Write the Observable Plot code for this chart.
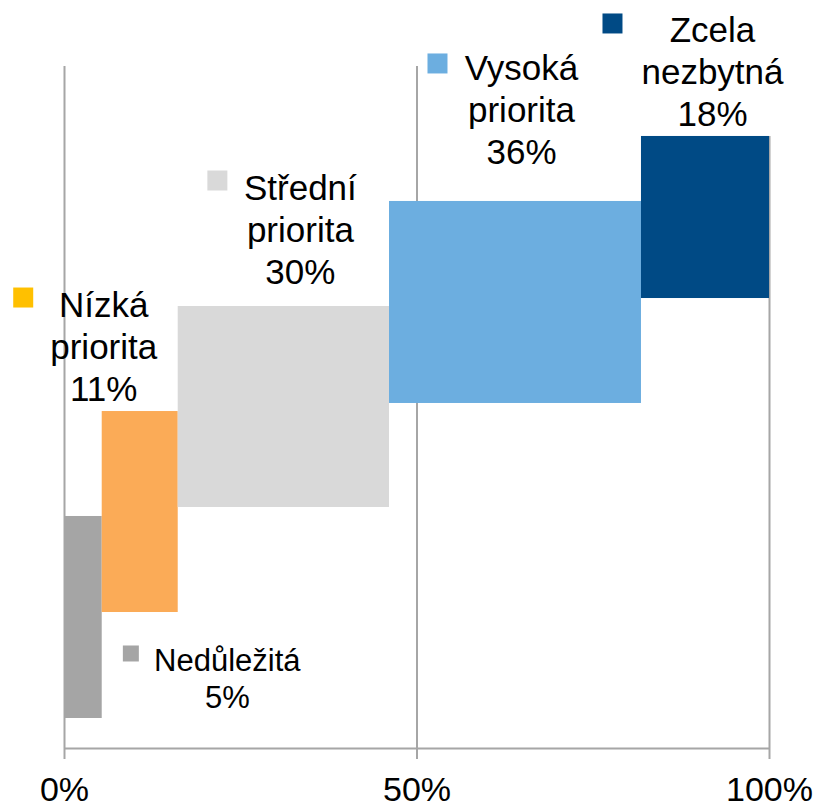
<!DOCTYPE html>
<html><head><meta charset="utf-8">
<script src="https://cdn.jsdelivr.net/npm/d3@7"></script>
<script src="https://cdn.jsdelivr.net/npm/@observablehq/plot@0.6"></script>
<style>body{margin:0;background:#fff} #chart svg{display:block}</style>
</head><body><div id="chart"></div>
<script>
// ---- data ----
const categories = ["Nedůležitá", "Nízká priorita", "Střední priorita", "Vysoká priorita", "Zcela nezbytná"];
const labelLines = [["Nedůležitá"], ["Nízká", "priorita"], ["Střední", "priorita"], ["Vysoká", "priorita"], ["Zcela", "nezbytná"]];
const shares = [5.35, 10.78, 29.97, 35.74, 18.16];      // % width of each block
const yLow  = [4.40, 19.94, 35.34, 50.59, 65.98];       // block bottoms (vertical units 0–100)
const yHigh = [34.02, 49.41, 64.81, 80.21, 89.74];      // block tops
const xTicks = [0, 50, 100];
const xTickLabels = ["0%", "50%", "100%"];

// ---- styling ----
const barColors    = ["#a5a5a5", "#fbab57", "#d9d9d9", "#6caee0", "#004a85"];
const markerColors = ["#a5a5a5", "#ffc000", "#d9d9d9", "#6caee0", "#004a85"];
const layout = [
  {fs: 31, dx: 144,   dy: 128,  mdx: 47.5,  mdy: 137,  side: 16},
  {fs: 35, dx: -36.5, dy: -124, mdx: -117,  mdy: -114, side: 20},
  {fs: 35, dx: 16.5,  dy: -136, mdx: -66.5, mdy: -126, side: 20},
  {fs: 35, dx: 6,     dy: -151, mdx: -78,   mdy: -138, side: 20},
  {fs: 35, dx: 7,     dy: -124, mdx: -93,   mdy: -113, side: 20}
];
const grid = "#a6a6a6";

const ends = d3.cumsum(shares);
const rows = categories.map((c, i) => ({
  cat: c,
  x1: ends[i] - shares[i],
  x2: ends[i],
  cx: ends[i] - shares[i] / 2,
  y1: yLow[i],
  y2: yHigh[i],
  label: labelLines[i].join("\n") + "\n" + Math.round(shares[i]) + "%",
  i
}));

const marks = [
  Plot.ruleX(xTicks.slice(0, 2), {y1: 0, y2: 100, stroke: grid, strokeWidth: 2}),
  Plot.ruleX([rows[4]], {x: "x2", y1: 0, y2: "y2", stroke: grid, strokeWidth: 2}),
  Plot.ruleY([0], {stroke: grid, strokeWidth: 2}),
  Plot.axisX({ticks: xTicks, tickFormat: (d) => xTickLabels[xTicks.indexOf(d)], tickSize: 11, tickPadding: 17,
    stroke: grid, strokeWidth: 2, fontSize: 34, fill: "#000"}),
  Plot.rect(rows, {x1: "x1", x2: "x2", y1: "y1", y2: "y2", fill: (d) => barColors[d.i]})
];
rows.forEach((r, i) => {
  const L = layout[i];
  marks.push(Plot.text([r], {x: "cx", y: "y2", text: "label", dx: L.dx, dy: L.dy, fontSize: L.fs,
    lineAnchor: "top", lineHeight: 1.2, textAnchor: "middle", fill: "#000"}));
  marks.push(Plot.dot([r], {x: "cx", y: "y2", dx: L.mdx, dy: L.mdy, symbol: "square",
    r: L.side / Math.sqrt(Math.PI), fill: markerColors[i], stroke: "none"}));
});

const chart = Plot.plot({
  width: 819,
  height: 809,
  marginLeft: 64,
  marginRight: 50,
  marginTop: 66,
  marginBottom: 61,
  style: {fontFamily: "'Liberation Sans', Arial, sans-serif", background: "#fff", overflow: "visible"},
  x: {domain: [0, 100], axis: null},
  y: {domain: [0, 100], axis: null},
  marks
});
document.getElementById("chart").appendChild(chart);
</script>
</body></html>
